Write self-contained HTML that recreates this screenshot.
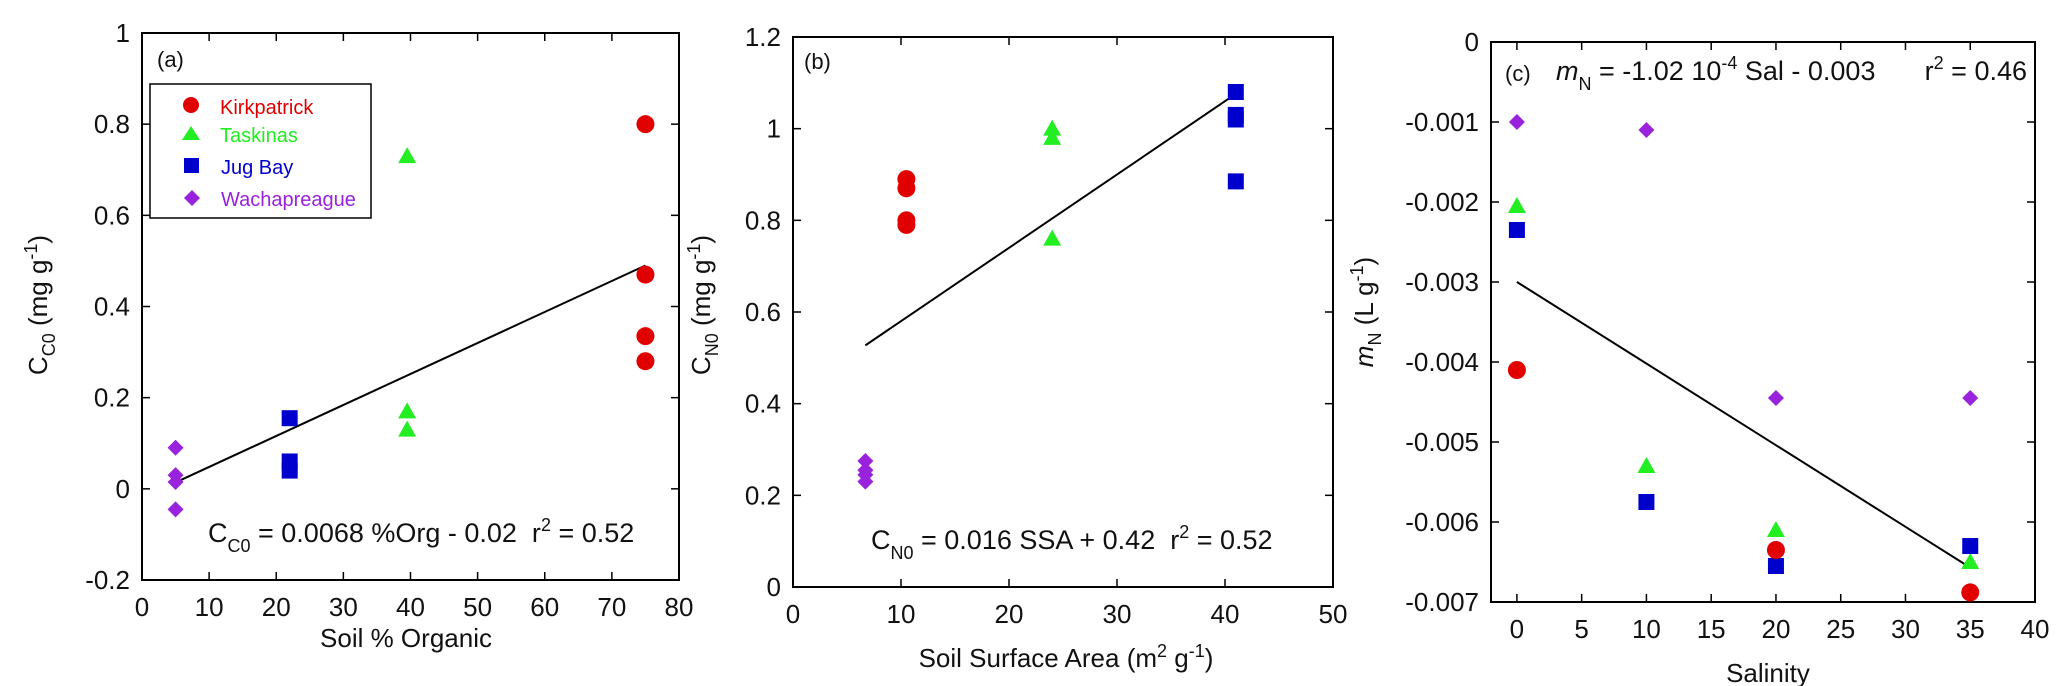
<!DOCTYPE html>
<html><head><meta charset="utf-8">
<style>
html,body{margin:0;padding:0;background:#fff;}
svg{display:block;font-family:"Liberation Sans",Arial,sans-serif;}
.pre{white-space:pre;}
</style></head>
<body>
<svg id="fig" width="2067" height="686" viewBox="0 0 2067 686" xmlns="http://www.w3.org/2000/svg"></svg>
<script>
// Panel (a) data
const aKirkX=[75,75,75,75], aKirkY=[0.80,0.47,0.335,0.28];
const aTaskX=[39.5,39.5,39.5], aTaskY=[0.73,0.17,0.13];
const aJugX=[22,22,22], aJugY=[0.155,0.06,0.04];
const aWachX=[5,5,5,5], aWachY=[0.09,0.03,0.015,-0.045];
const aFitX=[5,75], aSlope=0.0068, aInt=-0.02;
const aXTicks=[0,10,20,30,40,50,60,70,80], aYTicks=[-0.2,0,0.2,0.4,0.6,0.8,1];
const aYTickLabels=["-0.2","0","0.2","0.4","0.6","0.8","1"];
// Panel (b) data
const bKirkX=[10.5,10.5,10.5,10.5], bKirkY=[0.89,0.87,0.80,0.79];
const bTaskX=[24,24,24], bTaskY=[1.0,0.98,0.76];
const bJugX=[41,41,41,41], bJugY=[1.08,1.03,1.02,0.885];
const bWachX=[6.7,6.7,6.7,6.7], bWachY=[0.275,0.255,0.245,0.23];
const bFitX=[6.7,41], bSlope=0.016, bInt=0.42;
const bXTicks=[0,10,20,30,40,50], bYTicks=[0,0.2,0.4,0.6,0.8,1,1.2];
const bYTickLabels=["0","0.2","0.4","0.6","0.8","1","1.2"];
// Panel (c) data
const cKirkX=[0,20,35], cKirkY=[-0.0041,-0.00635,-0.00688];
const cTaskX=[0,10,20,35], cTaskY=[-0.00205,-0.0053,-0.0061,-0.0065];
const cJugX=[0,10,20,35], cJugY=[-0.00235,-0.00575,-0.00655,-0.0063];
const cWachX=[0,10,20,35], cWachY=[-0.001,-0.0011,-0.00445,-0.00445];
const cFitX=[0,35], cSlope=-1.02e-4, cInt=-0.003;
const cXTicks=[0,5,10,15,20,25,30,35,40], cYTicks=[0,-0.001,-0.002,-0.003,-0.004,-0.005,-0.006,-0.007];
const cYTickLabels=["0","-0.001","-0.002","-0.003","-0.004","-0.005","-0.006","-0.007"];

const NS="http://www.w3.org/2000/svg";
const svg=document.getElementById('fig');
function mk(tag,attrs,parent,text){const e=document.createElementNS(NS,tag);for(const k in attrs)e.setAttribute(k,attrs[k]);if(text!==undefined)e.textContent=text;(parent||svg).appendChild(e);return e;}
const COL={k:"#e00000",t:"#22ee22",j:"#0000cc",w:"#9922dd"};

function marker(g,type,x,y){
  let e;
  if(type==='k'){e=mk('circle',{cx:x,cy:y,r:9,fill:COL.k},g);}
  else if(type==='t'){e=mk('polygon',{points:`${x},${y-9} ${x+9},${y+7} ${x-9},${y+7}`,fill:COL.t},g);}
  else if(type==='j'){e=mk('rect',{x:x-8,y:y-8,width:16,height:16,fill:COL.j},g);}
  else {e=mk('polygon',{points:`${x},${y-8} ${x+8},${y} ${x},${y+8} ${x-8},${y}`,fill:COL.w},g);}
  
  
}

function panel(id,L,R,T,B,xmin,xmax,ymin,ymax,xt,yt,ytl,series,fitX,slope,intc){
  const g=mk('g',{});
  
  
  const sx=v=>L+(v-xmin)/(xmax-xmin)*(R-L);
  const sy=v=>B-(v-ymin)/(ymax-ymin)*(B-T);
  const frame=mk('rect',{x:L,y:T,width:R-L,height:B-T,fill:'none',stroke:'#000','stroke-width':2},g);
  
  
  xt.forEach(v=>{const x=sx(v);
    mk('line',{x1:x,y1:B,x2:x,y2:B-8,stroke:'#000','stroke-width':1.5},g);
    mk('line',{x1:x,y1:T,x2:x,y2:T+8,stroke:'#000','stroke-width':1.5},g);
    const t=mk('text',{x:x,y:B+36,'font-size':26,'text-anchor':'middle',fill:'#111'},g,String(v));
    
    
  });
  yt.forEach((v,i)=>{const y=sy(v);
    mk('line',{x1:L,y1:y,x2:L+8,y2:y,stroke:'#000','stroke-width':1.5},g);
    mk('line',{x1:R,y1:y,x2:R-8,y2:y,stroke:'#000','stroke-width':1.5},g);
    const t=mk('text',{x:L-12,y:y+9,'font-size':26,'text-anchor':'end',fill:'#111'},g,ytl[i]);
    
    
  });
  const fl=mk('line',{x1:sx(fitX[0]),y1:sy(slope*fitX[0]+intc),x2:sx(fitX[1]),y2:sy(slope*fitX[1]+intc),stroke:'#000','stroke-width':2},g);
  
  
  series.forEach(s=>{s.x.forEach((xv,i)=>marker(g,s.type,sx(xv),sy(s.y[i])));});
  return g;
}

panel('a',142,679,33,580,0,80,-0.2,1,aXTicks,aYTicks,aYTickLabels,
 [{type:'w',x:aWachX,y:aWachY},{type:'j',x:aJugX,y:aJugY},{type:'t',x:aTaskX,y:aTaskY},{type:'k',x:aKirkX,y:aKirkY}],aFitX,aSlope,aInt);
panel('b',793,1333,37,587,0,50,0,1.2,bXTicks,bYTicks,bYTickLabels,
 [{type:'w',x:bWachX,y:bWachY},{type:'k',x:bKirkX,y:bKirkY},{type:'t',x:bTaskX,y:bTaskY},{type:'j',x:bJugX,y:bJugY}],bFitX,bSlope,bInt);
panel('c',1491,2035,42,602,-2,40,-0.007,0,cXTicks,cYTicks,cYTickLabels,
 [{type:'w',x:cWachX,y:cWachY},{type:'t',x:cTaskX,y:cTaskY},{type:'j',x:cJugX,y:cJugY},{type:'k',x:cKirkX,y:cKirkY}],cFitX,cSlope,cInt);
</script>

<svg style="position:absolute;left:0;top:0" width="2067" height="686" viewBox="0 0 2067 686" xmlns="http://www.w3.org/2000/svg" font-family="Liberation Sans, Arial, sans-serif" fill="#111">
  <text x="157" y="67" font-size="22">(a)</text>
  <g>
    <rect x="150" y="84" width="221" height="134" fill="#fff" stroke="#000" stroke-width="1.5"/>
    <g><circle cx="191" cy="105" r="8" fill="#e00000"/><text x="220" y="114" font-size="20" fill="#e00000">Kirkpatrick</text></g>
    <g><polygon points="191,126 200,140 182,140" fill="#22ee22"/><text x="220" y="142" font-size="20" fill="#22ee22">Taskinas</text></g>
    <g><rect x="184" y="158" width="15" height="15" fill="#0000cc"/><text x="221" y="174" font-size="20" fill="#0000cc">Jug Bay</text></g>
    <g><polygon points="192,190 200,198 192,206 184,198" fill="#9922dd"/><text x="221" y="206" font-size="20" fill="#9922dd">Wachapreague</text></g>
  </g>
  <text class="pre" x="208" y="542" font-size="27">C<tspan font-size="18" dy="10">C0</tspan><tspan dy="-10"> = 0.0068 %Org - 0.02  r</tspan><tspan font-size="18" dy="-11">2</tspan><tspan dy="11"> = 0.52</tspan></text>
  <text x="406" y="647" font-size="26" text-anchor="middle">Soil % Organic</text>
  <text transform="translate(47,305) rotate(-90)" font-size="26" text-anchor="middle">C<tspan font-size="18" dy="8">C0</tspan><tspan dy="-8"> (mg g</tspan><tspan font-size="18" dy="-10">-1</tspan><tspan dy="10">)</tspan></text>

  <text x="804" y="69" font-size="22">(b)</text>
  <text class="pre" x="871" y="549" font-size="27">C<tspan font-size="18" dy="10">N0</tspan><tspan dy="-10"> = 0.016 SSA + 0.42  r</tspan><tspan font-size="18" dy="-11">2</tspan><tspan dy="11"> = 0.52</tspan></text>
  <text x="1066" y="667" font-size="26" text-anchor="middle">Soil Surface Area (m<tspan font-size="18" dy="-10">2</tspan><tspan dy="10"> g</tspan><tspan font-size="18" dy="-10">-1</tspan><tspan dy="10">)</tspan></text>
  <text transform="translate(710,305) rotate(-90)" font-size="26" text-anchor="middle">C<tspan font-size="18" dy="8">N0</tspan><tspan dy="-8"> (mg g</tspan><tspan font-size="18" dy="-10">-1</tspan><tspan dy="10">)</tspan></text>

  <text x="1505" y="81" font-size="22">(c)</text>
  <text class="pre" x="1556" y="80" font-size="27"><tspan font-style="italic">m</tspan><tspan font-size="18" dy="10">N</tspan><tspan dy="-10"> = -1.02 10</tspan><tspan font-size="18" dy="-11">-4</tspan><tspan dy="11"> Sal - 0.003</tspan></text>
  <text x="2027" y="80" font-size="27" text-anchor="end">r<tspan font-size="18" dy="-11">2</tspan><tspan dy="11"> = 0.46</tspan></text>
  <text x="1768" y="682" font-size="26" text-anchor="middle">Salinity</text>
  <text transform="translate(1373,312) rotate(-90)" font-size="26" text-anchor="middle"><tspan font-style="italic">m</tspan><tspan font-size="18" dy="8">N</tspan><tspan dy="-8"> (L g</tspan><tspan font-size="18" dy="-10">-1</tspan><tspan dy="10">)</tspan></text>
</svg>
</body></html>
